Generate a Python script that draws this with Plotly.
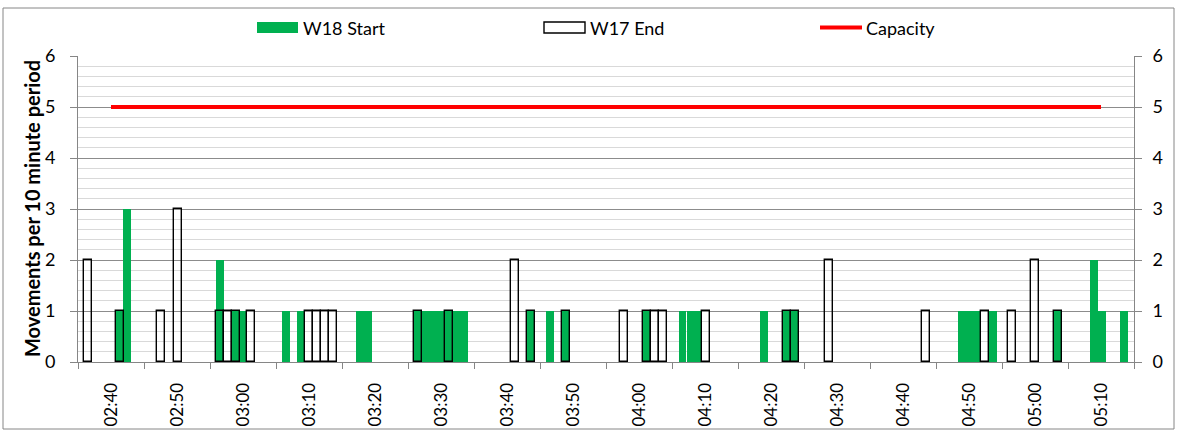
import plotly.graph_objects as go

# ---- data (time in minutes after midnight) ----
w18_times = [161.3, 162.4, 176.5, 178.9, 180.0, 186.5, 188.8, 197.7, 198.9,
             206.5, 207.7, 208.8, 210.0, 211.2, 212.4, 213.5, 223.6, 226.5,
             228.9, 241.2, 246.6, 247.8, 248.9, 258.9, 262.4, 263.6, 288.9,
             290.1, 291.2, 293.6, 303.5, 308.9, 310.1, 313.5]
w18_values = [1, 3, 2, 1, 1, 1, 1, 1, 1,
              1, 1, 1, 1, 1, 1, 1, 1, 1,
              1, 1, 1, 1, 1, 1, 1, 1, 1,
              1, 1, 1, 1, 2, 1, 1]

w17_times = [156.5, 161.3, 167.6, 170.1, 176.5, 177.7, 178.9, 181.2, 190.0,
             191.2, 192.4, 193.6, 206.5, 211.2, 221.2, 223.6, 228.9, 237.7,
             241.2, 242.4, 243.6, 250.1, 262.4, 263.6, 268.8, 283.5, 292.4,
             296.5, 300.0, 303.5]
w17_values = [2, 1, 1, 3, 1, 1, 1, 1, 1,
              1, 1, 1, 1, 1, 2, 1, 1, 1,
              1, 1, 1, 1, 1, 1, 2, 1, 1,
              1, 2, 1]

cap_times = [160, 310]
cap_values = [5, 5]

tick_minutes = [160, 170, 180, 190, 200, 210, 220, 230, 240, 250, 260, 270,
                280, 290, 300, 310]
tick_labels = ["02:40", "02:50", "03:00", "03:10", "03:20", "03:30", "03:40",
               "03:50", "04:00", "04:10", "04:20", "04:30", "04:40", "04:50",
               "05:00", "05:10"]

series_names = ["W18 Start", "W17 End", "Capacity"]
y_title = "Movements per 10 minute period"

# ---- styling ----
W, H = 1177, 432
ML, MR, MT, MB = 78, 43, 56, 70
PW, PH = W - ML - MR, H - MT - MB
GREEN = "#00B050"
RED = "#FF0000"
AXIS = "#868686"
MINOR = "#D9D9D9"
FONT = "Lato"
BAR_W = 1.19
X_RANGE = [155, 315]


def px_x(px):
    return (px - ML) / PW


def px_y(py):
    return (H - MB - py) / PH


fig = go.Figure()
fig.add_trace(go.Bar(x=w18_times, y=w18_values, name=series_names[0], width=BAR_W,
                     marker=dict(color=GREEN, line=dict(width=0)), showlegend=False))
fig.add_trace(go.Bar(x=w17_times, y=w17_values, name=series_names[1], width=BAR_W,
                     marker=dict(color="rgba(0,0,0,0)", line=dict(color="black", width=1.4)),
                     showlegend=False))
fig.add_trace(go.Scatter(x=cap_times, y=cap_values, name=series_names[2], mode="lines",
                         line=dict(color=RED, width=4), yaxis="y2", showlegend=False))

yaxis_common = dict(range=[0, 6], tickmode="linear", tick0=0, dtick=1, ticks="outside",
                    ticklen=7, tickcolor=AXIS, showline=True, linecolor=AXIS, linewidth=1,
                    zeroline=False, automargin=False,
                    tickfont=dict(family=FONT, size=18, color="black"))

fig.update_layout(
    width=W, height=H,
    margin=dict(l=ML, r=MR, t=MT, b=MB, pad=0, autoexpand=False),
    paper_bgcolor="white", plot_bgcolor="white",
    barmode="overlay", bargap=0,
    font=dict(family=FONT, size=17, color="black"),
    xaxis=dict(range=X_RANGE, tickmode="array", tickvals=tick_minutes, ticktext=tick_labels,
               tickangle=-90, ticks="", ticklabelstandoff=13, showline=True, linecolor=AXIS,
               linewidth=1, showgrid=False, zeroline=False, automargin=False,
               tickfont=dict(family=FONT, size=17, color="black"),
               minor=dict(tickmode="linear", tick0=X_RANGE[0], dtick=10, ticks="outside",
                          ticklen=6, tickcolor=AXIS, showgrid=False)),
    yaxis=dict(**yaxis_common, showgrid=True, gridcolor="#8C8C8C", gridwidth=1,
               ticklabelstandoff=11,
               minor=dict(dtick=0.2, showgrid=True, gridcolor=MINOR, gridwidth=1)),
    yaxis2=dict(**yaxis_common, overlaying="y", side="right", showgrid=False,
                ticklabelstandoff=7),
    showlegend=False,
)

# y-axis title
fig.add_annotation(text="<b>" + y_title + "</b>", xref="paper", yref="paper",
                   x=px_x(32), y=0.5, xanchor="center", yanchor="middle", textangle=-90,
                   showarrow=False, font=dict(family=FONT, size=20, color="black"))

# chart-area border
fig.add_shape(type="rect", xref="paper", yref="paper",
              x0=px_x(3), x1=px_x(1174), y0=px_y(429), y1=px_y(8),
              line=dict(color=AXIS, width=1), fillcolor="rgba(0,0,0,0)", layer="below")

# legend (drawn manually to match wide key symbols)
fig.add_shape(type="rect", xref="paper", yref="paper",
              x0=px_x(257), x1=px_x(298), y0=px_y(33), y1=px_y(22),
              line=dict(width=0), fillcolor=GREEN)
fig.add_shape(type="rect", xref="paper", yref="paper",
              x0=px_x(544), x1=px_x(585), y0=px_y(33), y1=px_y(22),
              line=dict(color="black", width=1.4), fillcolor="white")
fig.add_shape(type="line", xref="paper", yref="paper",
              x0=px_x(820), x1=px_x(862), y0=px_y(27.5), y1=px_y(27.5),
              line=dict(color=RED, width=4))
for name, px in zip(series_names, [301, 588, 864]):
    fig.add_annotation(text=name, xref="paper", yref="paper", x=px_x(px), y=px_y(27.5),
                       xanchor="left", yanchor="middle", showarrow=False,
                       font=dict(family=FONT, size=18, color="black"))

fig.write_html("out.html", config={"displayModeBar": False},
               post_script="document.body.style.margin='0';document.body.style.overflow='hidden';")
